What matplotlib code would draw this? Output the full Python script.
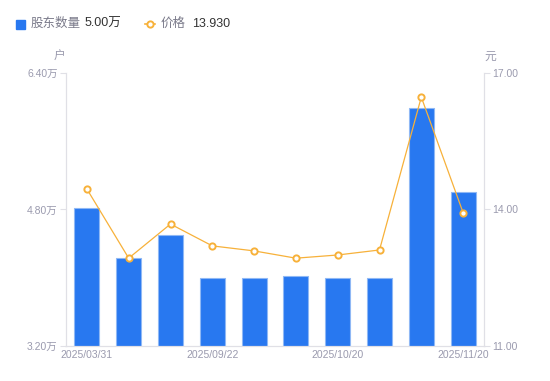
import numpy as np
import matplotlib.pyplot as plt
from matplotlib.lines import Line2D
from matplotlib.patches import Rectangle

plt.rcParams['font.family'] = ['Liberation Sans', 'Noto Sans CJK SC', 'DejaVu Sans']

# data
dates = ['2025/03/31', '2025/06/30', '2025/08/31', '2025/09/22', '2025/09/30',
         '2025/10/10', '2025/10/20', '2025/10/31', '2025/11/10', '2025/11/20']
holders = [4.82, 4.23, 4.50, 4.00, 4.00, 4.02, 4.00, 4.00, 5.99, 5.00]  # 万户
price = [14.45, 12.93, 13.68, 13.20, 13.09, 12.93, 13.00, 13.11, 16.47, 13.93]
tick_idx = [0, 3, 6, 9]

bar_color = '#2878f0'
line_color = '#f7b13a'
axis_color = '#e0e0e6'
label_color = '#9a9aae'

fig = plt.figure(figsize=(5.5, 3.81), dpi=100)
ax = fig.add_axes([0.12, 0.0919, 0.76, 0.7165])
ax2 = ax.twinx()

x = np.arange(len(dates))
ax.bar(x, holders, width=0.6, color=bar_color, edgecolor='#8fb8f5', linewidth=0.8, zorder=2)
ax.set_xlim(-0.5, len(dates) - 0.5)
ax.set_ylim(3.2, 6.4)
ax.set_yticks([3.2, 4.8, 6.4])
ax.set_yticklabels([f'{v:.2f}万' for v in [3.2, 4.8, 6.4]])

ax2.plot(x, price, color=line_color, linewidth=0.9, marker='o', markersize=4.5,
         markerfacecolor='white', markeredgecolor=line_color, markeredgewidth=1.4, zorder=3)
ax2.set_ylim(11, 17)
ax2.set_yticks([11, 14, 17])
ax2.set_yticklabels([f'{v:.2f}' for v in [11, 14, 17]])

ax.set_xticks([x[i] for i in tick_idx])
ax.set_xticklabels([dates[i] for i in tick_idx])

for a in (ax, ax2):
    for s in a.spines.values():
        s.set_color(axis_color)
    a.spines['top'].set_visible(False)
    a.tick_params(colors=axis_color, labelcolor=label_color, labelsize=7.5, length=4, width=0.8)
ax.tick_params(axis='x', length=0, pad=3)
ax.tick_params(axis='y', pad=2)
ax2.tick_params(axis='y', pad=2)

fig.text(59 / 550, 1 - 57 / 381, '户', color=label_color, fontsize=8.5, ha='center', va='center')
fig.text(490 / 550, 1 - 57 / 381, '元', color=label_color, fontsize=8.5, ha='center', va='center')

# legend
ly = 1 - 24 / 381
fig.patches.append(Rectangle((16 / 550, 1 - 29 / 381), 9 / 550, 9 / 381,
                             transform=fig.transFigure, color=bar_color, figure=fig))
fig.text(31 / 550, ly, '股东数量', color='#7a7a8a', fontsize=9, va='center')
fig.text(85 / 550, ly, f'{holders[-1]:.2f}万', color='#333333', fontsize=9, va='center')
fig.lines.append(Line2D([145 / 550, 155 / 550], [ly, ly], transform=fig.transFigure,
                        color=line_color, linewidth=1.2))
fig.lines.append(Line2D([150 / 550], [ly], transform=fig.transFigure, linestyle='none',
                        marker='o', markersize=4.5, markerfacecolor='white',
                        markeredgecolor=line_color, markeredgewidth=1.4))
fig.text(161 / 550, ly, '价格', color='#7a7a8a', fontsize=9, va='center')
fig.text(192 / 550, ly, f'{price[-1]:.3f}', color='#333333', fontsize=9, va='center')

fig.savefig('out.png', dpi=100)
